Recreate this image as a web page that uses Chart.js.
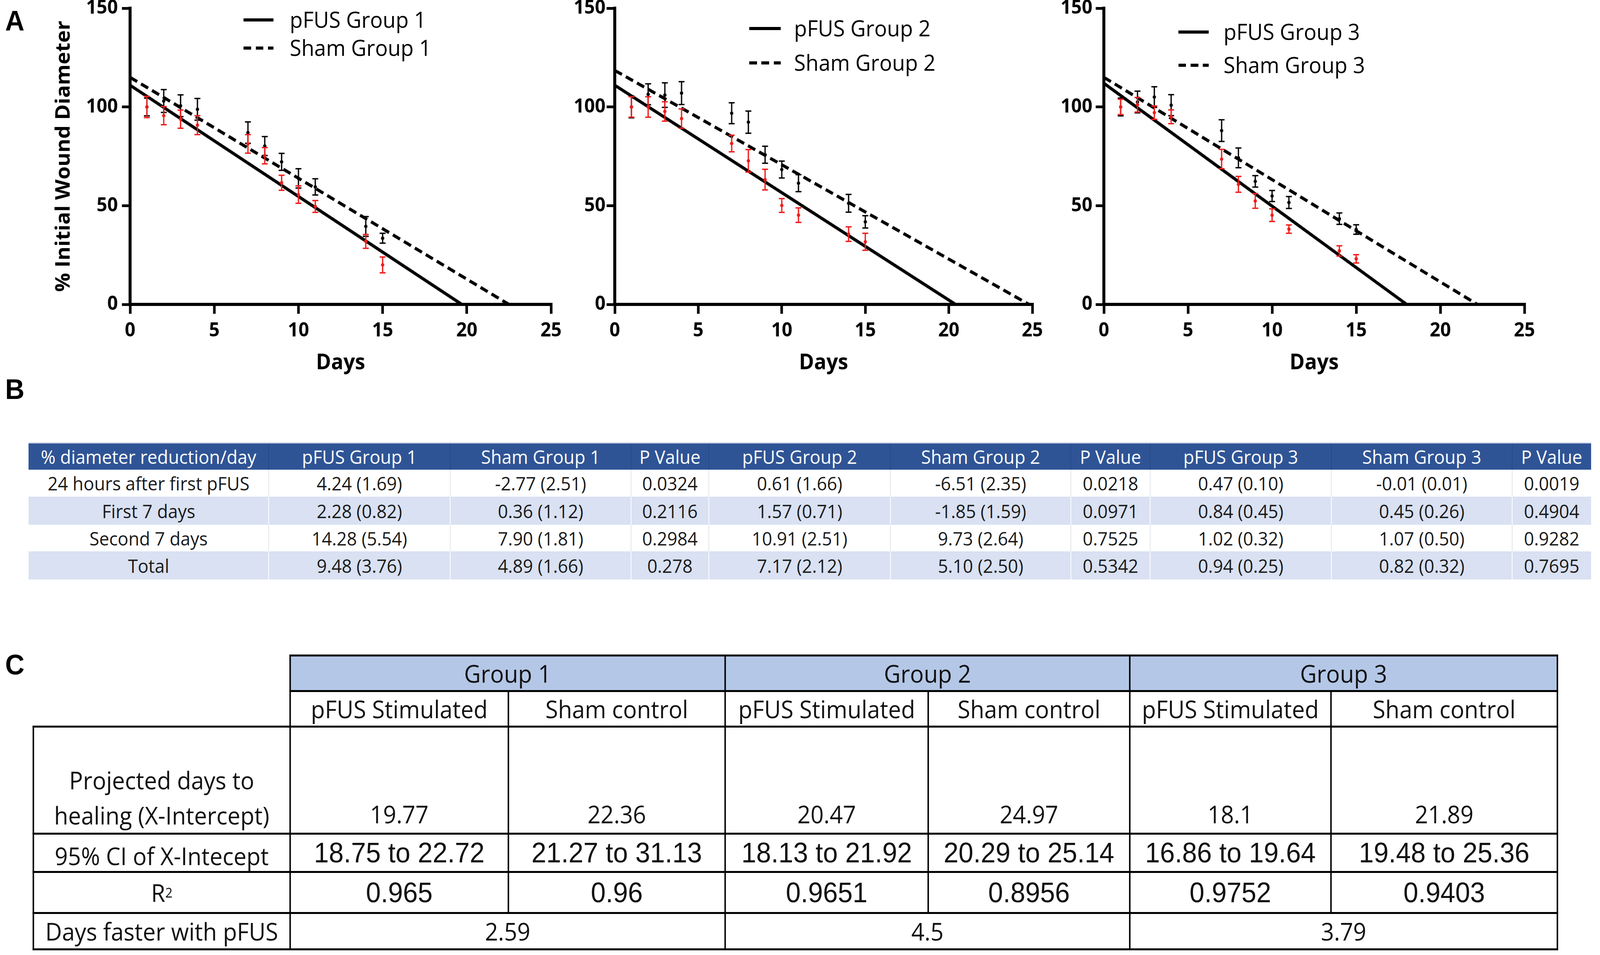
<!DOCTYPE html>
<html><head><meta charset="utf-8">
<script src="https://cdn.jsdelivr.net/npm/chart.js@4.4.1/dist/chart.umd.min.js"></script>
<style>
html,body{margin:0;padding:0;background:#fff;overflow:hidden;}
body{position:relative;font-family:'Open Sans',sans-serif;color:#000;}
#page{position:absolute;left:0;top:0;width:4318px;height:2444px;transform-origin:0 0;background:#fff;}
canvas{position:absolute;top:0;}
.letter{position:absolute;font-family:'Liberation Sans',Arial,sans-serif;font-weight:bold;font-size:72px;line-height:1;}
.legtxt{position:absolute;font-family:'Open Sans';font-size:57px;line-height:60px;height:60px;white-space:nowrap;}
.legline{position:absolute;height:8px;}
.cell{position:absolute;display:flex;align-items:center;justify-content:center;text-align:center;white-space:nowrap;box-sizing:border-box;}
.hl{position:absolute;background:#000;}
</style></head><body>
<div id="page">
<div class="letter" style="left:14px;top:17px">A</div>
<div class="letter" style="left:14px;top:960px">B</div>
<div class="letter" style="left:14px;top:1665px">C</div>
<canvas id="c1" width="1490" height="990" style="left:40px"></canvas>
<canvas id="c2" width="1310" height="990" style="left:1520px"></canvas>
<canvas id="c3" width="1330" height="990" style="left:2840px"></canvas>
<div id="tblB"></div>
<div id="tblC"></div>
</div>
<script>
// fit the 4318x2444 design to the actual CSS viewport
(function () {
  const de = document.documentElement;
  const vw = de.clientWidth || window.innerWidth || 4318;
  const vh = de.clientHeight || window.innerHeight || 2444;
  const sx = vw / 4318, sy = vh / 2444;
  document.getElementById('page').style.transform = 'scale(' + sx + ',' + sy + ')';
  document.body.style.width = vw + 'px';
  document.body.style.height = vh + 'px';
})();

// ---------- data ----------
const days = [1, 2, 3, 4, 7, 8, 9, 10, 11, 14, 15];

const pfusG1    = [100, 95.6, 93.8, 90.8, 81.3, 75.3, 61.6, 55.6, 49.6, 31.9, 20.0];
const pfusG1Err = [5.4, 4.6, 4.6, 4.8, 4.7, 4.1, 3.8, 4.4, 3.0, 3.5, 4.0];
const shamG1    = [100, 103.0, 100.6, 98.8, 87.0, 80.2, 72.2, 63.8, 59.5, 39.5, 33.5];
const shamG1Err = [4.5, 5.8, 5.5, 5.5, 5.4, 4.8, 4.3, 4.9, 4.1, 5.0, 2.5];

const pfusG2    = [100, 100, 97.7, 94.1, 81.5, 72.7, 63.2, 50.1, 45.2, 35.6, 31.7];
const pfusG2Err = [5.2, 5.2, 4.9, 4.9, 4.2, 5.7, 5.2, 3.5, 3.7, 3.7, 4.3];
const shamG2    = [100, 106.4, 106.0, 107.0, 96.8, 92.3, 75.8, 68.3, 61.4, 51.2, 41.8];
const shamG2Err = [5.5, 5.3, 6.2, 5.8, 5.3, 5.6, 4.3, 4.3, 4.3, 4.5, 3.1];

const pfusG3    = [100, 101.1, 97.1, 95.0, 73.6, 60.8, 52.4, 45.2, 38.1, 27.1, 23.1];
const pfusG3Err = [3.9, 3.7, 3.4, 3.5, 4.9, 4.0, 3.7, 3.2, 2.1, 2.6, 2.1];
const shamG3    = [100, 102.5, 105.0, 100.9, 88.0, 74.2, 62.3, 54.9, 51.6, 43.4, 37.9];
const shamG3Err = [4.5, 5.5, 5.2, 5.3, 5.5, 5.0, 2.9, 2.8, 3.0, 2.9, 2.4];

// regression lines: value at day 0 and x-intercept, per group
const fitPfusY0 = [111, 111, 112];
const fitPfusX0 = [19.7, 20.4, 18.0];
const fitShamY0 = [115, 118.5, 115];
const fitShamX0 = [22.5, 24.8, 22.2];

const pfusLabels = ['pFUS Group 1', 'pFUS Group 2', 'pFUS Group 3'];
const shamLabels = ['Sham Group 1', 'Sham Group 2', 'Sham Group 3'];
const xTicks = [0, 5, 10, 15, 20, 25];
const yTicks = [0, 50, 100, 150];

// table B
const tblBHeaders = ['% diameter reduction/day','pFUS Group 1','Sham Group 1','P Value','pFUS Group 2','Sham Group 2','P Value','pFUS Group 3','Sham Group 3','P Value'];
const tblBRows   = ['24 hours after first pFUS','First 7 days','Second 7 days','Total'];
const pfusG1Rate = ['4.24 (1.69)','2.28 (0.82)','14.28 (5.54)','9.48 (3.76)'];
const shamG1Rate = ['-2.77 (2.51)','0.36 (1.12)','7.90 (1.81)','4.89 (1.66)'];
const pValG1     = ['0.0324','0.2116','0.2984','0.278'];
const pfusG2Rate = ['0.61 (1.66)','1.57 (0.71)','10.91 (2.51)','7.17 (2.12)'];
const shamG2Rate = ['-6.51 (2.35)','-1.85 (1.59)','9.73 (2.64)','5.10 (2.50)'];
const pValG2     = ['0.0218','0.0971','0.7525','0.5342'];
const pfusG3Rate = ['0.47 (0.10)','0.84 (0.45)','1.02 (0.32)','0.94 (0.25)'];
const shamG3Rate = ['-0.01 (0.01)','0.45 (0.26)','1.07 (0.50)','0.82 (0.32)'];
const pValG3     = ['0.0019','0.4904','0.9282','0.7695'];

// table C
const tblCGroups = ['Group 1','Group 2','Group 3'];
const tblCSub = ['pFUS Stimulated','Sham control'];
const tblCLabels = ['Projected days to<br>healing (X-Intercept)','95% CI of X-Intecept','R<sup style="font-size:0.55em;vertical-align:0.75em;line-height:0">2</sup>','Days faster with pFUS'];
const xIntercept = ['19.77','22.36','20.47','24.97','18.1','21.89'];
const ciXIntercept = ['18.75 to 22.72','21.27 to 31.13','18.13 to 21.92','20.29 to 25.14','16.86 to 19.64','19.48 to 25.36'];
const rSquared = ['0.965','0.96','0.9651','0.8956','0.9752','0.9403'];
const daysFaster = ['2.59','4.5','3.79'];

// ---------- charts ----------
const RED = '#ee1c1c';
const errorBarPlugin = {
  id: 'errorBars',
  afterDatasetDraw(chart, args) {
    const ds = chart.data.datasets[args.index];
    if (!ds.errors) return;
    const ctx = chart.ctx, xs = chart.scales.x, ys = chart.scales.y;
    ctx.save();
    ctx.strokeStyle = ds.borderColor;
    ctx.lineWidth = 3.5;
    ds.data.forEach((p, i) => {
      const px = xs.getPixelForValue(p.x);
      const t = ys.getPixelForValue(p.y + ds.errors[i]);
      const b = ys.getPixelForValue(p.y - ds.errors[i]);
      ctx.beginPath();
      ctx.moveTo(px, t); ctx.lineTo(px, b);
      ctx.moveTo(px - 8, t); ctx.lineTo(px + 8, t);
      ctx.moveTo(px - 8, b); ctx.lineTo(px + 8, b);
      ctx.stroke();
    });
    ctx.restore();
  }
};

const panels = [
  {id:'c1', canvasLeft:40,   areaLeft:311, padRight:43, yTitle:true,  yPad:11, pfus:pfusG1, pfusErr:pfusG1Err, sham:shamG1, shamErr:shamG1Err,
   legX:[657, 738, 786], legY:[51, 123]},
  {id:'c2', canvasLeft:1520, areaLeft:139, padRight:44, yTitle:false, yPad:3,  pfus:pfusG2, pfusErr:pfusG2Err, sham:shamG2, shamErr:shamG2Err,
   legX:[2022, 2107, 2147], legY:[73, 161]},
  {id:'c3', canvasLeft:2840, areaLeft:139, padRight:56, yTitle:false, yPad:9,  pfus:pfusG3, pfusErr:pfusG3Err, sham:shamG3, shamErr:shamG3Err,
   legX:[3180, 3262, 3306], legY:[82, 167]}
];
const CH_H = 990, AREA_BOTTOM = 779, AREA_TOP = 21;
const page = document.getElementById('page');

panels.forEach((P, k) => {
  const pts = arr => days.map((d, i) => ({x: d, y: arr[i]}));
  const datasets = [
    {label: pfusLabels[k] + ' data', data: pts(P.pfus), errors: P.pfusErr, borderColor: RED, backgroundColor: RED,
     pointRadius: 4.5, pointBorderWidth: 0, showLine: false},
    {label: shamLabels[k] + ' data', data: pts(P.sham), errors: P.shamErr, borderColor: '#000', backgroundColor: '#000',
     pointRadius: 4.5, pointBorderWidth: 0, showLine: false},
    {label: pfusLabels[k], data: [{x: 0, y: fitPfusY0[k]}, {x: fitPfusX0[k], y: 0}], showLine: true,
     borderColor: '#000', borderWidth: 8, pointRadius: 0, borderCapStyle: 'butt'},
    {label: shamLabels[k], data: [{x: 0, y: fitShamY0[k]}, {x: fitShamX0[k], y: 0}], showLine: true,
     borderColor: '#000', borderWidth: 8, pointRadius: 0, borderDash: [22, 12], borderCapStyle: 'butt'}
  ];
  new Chart(document.getElementById(P.id), {
    type: 'scatter',
    data: {datasets},
    plugins: [errorBarPlugin],
    options: {
      responsive: false, animation: false,
      layout: {padding: {top: AREA_TOP, right: P.padRight, bottom: 0, left: 0}},
      plugins: {legend: {display: false}, tooltip: {enabled: false}},
      scales: {
        x: {
          type: 'linear', min: 0, max: 25,
          afterBuildTicks: s => { s.ticks = xTicks.map(v => ({value: v})); },
          afterFit: s => { s.height = CH_H - AREA_BOTTOM; s.paddingLeft = 0; s.paddingRight = 0; },
          border: {display: true, color: '#000', width: 8},
          grid: {drawOnChartArea: false, drawTicks: true, tickLength: 24, tickWidth: 7, tickColor: '#000', color: '#000', lineWidth: 7},
          ticks: {color: '#000', padding: 14, maxRotation: 0, font: {family: 'Open Sans', weight: 'bold', size: 50}},
          title: {display: true, text: 'Days', color: '#000', padding: {top: 0, bottom: 28},
                  font: {family: 'Open Sans', weight: 'bold', size: 55}}
        },
        y: {
          type: 'linear', min: 0, max: 150,
          afterBuildTicks: s => { s.ticks = yTicks.map(v => ({value: v})); },
          afterFit: s => { s.width = P.areaLeft; s.paddingTop = 0; s.paddingBottom = 0; },
          border: {display: true, color: '#000', width: 8},
          grid: {drawOnChartArea: false, drawTicks: true, tickLength: 22, tickWidth: 7, tickColor: '#000', color: '#000', lineWidth: 7},
          ticks: {color: '#000', padding: P.yPad, font: {family: 'Open Sans', weight: 'bold', size: 50}},
          title: {display: P.yTitle, text: '% Initial Wound Diameter', color: '#000', padding: {top: 100, bottom: 0},
                  font: {family: 'Open Sans', weight: 'bold', size: 54}}
        }
      }
    }
  });
  // legend (HTML, from the regression dataset labels)
  [[datasets[2], false], [datasets[3], true]].forEach(([ds, dashed], r) => {
    const ln = document.createElement('div');
    ln.className = 'legline';
    ln.style.left = P.legX[0] + 'px';
    ln.style.width = (P.legX[1] - P.legX[0]) + 'px';
    ln.style.top = (P.legY[r] - 4) + 'px';
    ln.style.background = dashed ? 'repeating-linear-gradient(to right,#000 0 21px,transparent 21px 33px)' : '#000';
    page.appendChild(ln);
    const tx = document.createElement('div');
    tx.className = 'legtxt';
    tx.style.left = (P.legX[2] - 4) + 'px';
    tx.style.top = (P.legY[r] - 32) + 'px';
    tx.textContent = ds.label;
    page.appendChild(tx);
  });
});

// ---------- helpers ----------
function cell(parent, x, y, w, h, html, style) {
  const d = document.createElement('div');
  d.className = 'cell';
  d.style.cssText += `left:${x}px;top:${y}px;width:${w}px;height:${h}px;` + (style || '');
  d.innerHTML = html;
  parent.appendChild(d);
  return d;
}
function line(parent, x, y, w, h, color) {
  const d = document.createElement('div');
  d.className = 'hl';
  d.style.cssText += `left:${x}px;top:${y}px;width:${w}px;height:${h}px;background:${color || '#000'};`;
  parent.appendChild(d);
}

// ---------- table B ----------
(function () {
  const root = document.getElementById('tblB');
  const colW = [648, 490, 488, 210, 490, 487, 214, 489, 488, 213];
  const rowH = [68, 69, 72, 68, 72];
  const X0 = 77, Y0 = 1134;
  const cols = [tblBRows, pfusG1Rate, shamG1Rate, pValG1, pfusG2Rate, shamG2Rate, pValG2, pfusG3Rate, shamG3Rate, pValG3];
  const font = "font-family:'Open Sans';font-size:48px;";
  const totalW = colW.reduce((a, b) => a + b, 0);
  let y = Y0;
  for (let r = 0; r < 5; r++) {
    const bg = r === 0 ? '#2f5496' : (r % 2 === 0 ? '#d9e1f2' : '#ffffff');
    cell(root, X0, y, totalW, rowH[r], '', 'background:' + bg + ';');
    let x = X0;
    for (let c = 0; c < colW.length; c++) {
      const txt = r === 0 ? tblBHeaders[c] : cols[c][r - 1];
      cell(root, x, y, colW[c], rowH[r], txt, font + (r === 0 ? 'color:#fff;' : 'color:#1a1a1a;'));
      if (c > 0) line(root, x - 1, y, 2, rowH[r], r === 0 ? '#2a4a86' : (r % 2 === 0 ? '#ffffff' : '#dfe3ea'));
      x += colW[c];
    }
    y += rowH[r];
  }
  line(root, X0, Y0 - 2, totalW, 3, '#c5d0e6');
})();

// ---------- table C ----------
(function () {
  const root = document.getElementById('tblC');
  const xs = [90, 783, 1372, 1957, 2505, 3049, 3592, 4203];
  const ys = [1677, 1768, 1859, 2133, 2231, 2336, 2429];
  const txt = "font-family:'Open Sans';font-size:62px;color:#111;";
  const num = "font-family:'Liberation Sans',Arial,sans-serif;font-size:72px;color:#111;";
  cell(root, xs[1], ys[0], xs[7] - xs[1], ys[1] - ys[0], '', 'background:#b4c7e7;');
  for (let g = 0; g < 3; g++) {
    cell(root, xs[1 + 2 * g], ys[0], xs[3 + 2 * g] - xs[1 + 2 * g], ys[1] - ys[0], tblCGroups[g], txt);
  }
  for (let c = 0; c < 6; c++) {
    const x = xs[1 + c], w = xs[2 + c] - xs[1 + c];
    cell(root, x, ys[1], w, ys[2] - ys[1], tblCSub[c % 2], txt);
    cell(root, x, ys[2], w, ys[3] - ys[2] - 8, xIntercept[c], txt + 'align-items:flex-end;');
    cell(root, x, ys[3], w, ys[4] - ys[3], ciXIntercept[c], num);
    cell(root, x, ys[4], w, ys[5] - ys[4], rSquared[c], num);
  }
  for (let g = 0; g < 3; g++) {
    cell(root, xs[1 + 2 * g], ys[5], xs[3 + 2 * g] - xs[1 + 2 * g], ys[6] - ys[5], daysFaster[g], txt);
  }
  cell(root, xs[0], ys[2], xs[1] - xs[0], ys[3] - ys[2] - 2, tblCLabels[0], txt + 'align-items:flex-end;line-height:90px;');
  cell(root, xs[0], ys[3], xs[1] - xs[0], ys[4] - ys[3] + 16, tblCLabels[1], txt);
  cell(root, xs[0], ys[4], xs[1] - xs[0], ys[5] - ys[4], tblCLabels[2], txt);
  cell(root, xs[0], ys[5], xs[1] - xs[0], ys[6] - ys[5], tblCLabels[3], txt);
  const HT = 5, VT = 4;
  [0, 1].forEach(i => line(root, xs[1] - VT / 2, ys[i] - HT / 2, xs[7] - xs[1] + VT, HT));
  [2, 3, 4, 5, 6].forEach(i => line(root, xs[0] - VT / 2, ys[i] - HT / 2, xs[7] - xs[0] + VT, HT));
  [1, 3, 5, 7].forEach(i => line(root, xs[i] - VT / 2, ys[0] - HT / 2, VT, ys[6] - ys[0] + HT));
  line(root, xs[0] - VT / 2, ys[2] - HT / 2, VT, ys[6] - ys[2] + HT);
  [2, 4, 6].forEach(i => line(root, xs[i] - VT / 2, ys[1], VT, ys[5] - ys[1]));
})();
</script>
</body></html>
